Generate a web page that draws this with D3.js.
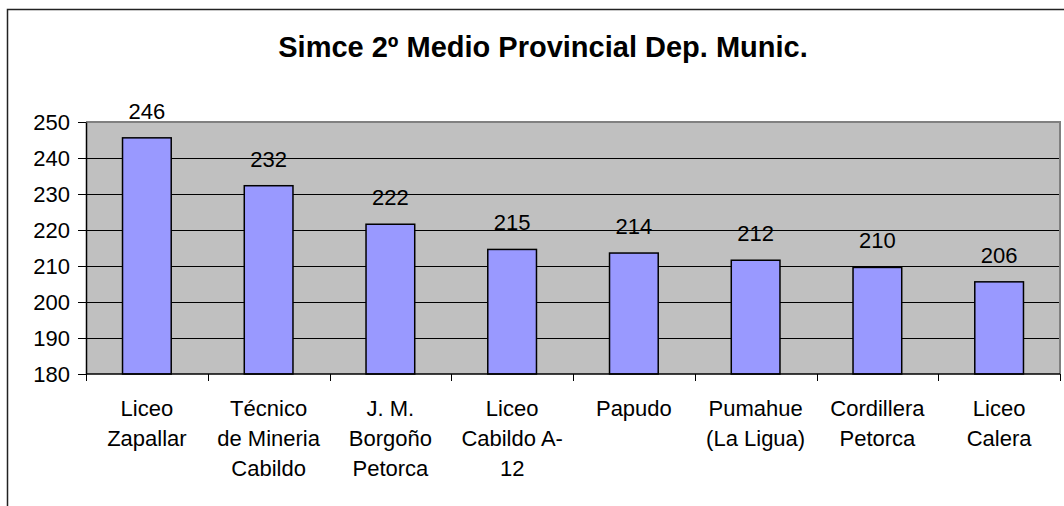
<!DOCTYPE html>
<html><head><meta charset="utf-8">
<script src="https://cdn.jsdelivr.net/npm/d3@7"></script>
<style>
html,body{margin:0;padding:0;background:#fff;}
svg{display:block;font-family:"Liberation Sans",Arial,sans-serif;}
</style></head>
<body>
<svg id="chart" width="1064" height="506"></svg>
<script>
const title = "Simce 2º Medio Provincial Dep. Munic.";
const categories = ["Liceo\nZapallar","Técnico\nde Mineria\nCabildo","J. M.\nBorgoño\nPetorca","Liceo\nCabildo A-\n12","Papudo","Pumahue\n(La Ligua)","Cordillera\nPetorca","Liceo\nCalera"];
const values = [245.6, 232.3, 221.6, 214.6, 213.6, 211.6, 209.6, 205.6];
const yTicks = [180, 190, 200, 210, 220, 230, 240, 250];

const svg = d3.select("#chart");
const L = 86, R = 1060, T = 122, B = 374;

// outer chart border
svg.append("rect").attr("x",7.5).attr("y",9.5).attr("width",1200).attr("height",800)
  .attr("fill","none").attr("stroke","#222").attr("stroke-width",1.5);

svg.append("text").attr("x",543).attr("y",57).attr("text-anchor","middle")
  .attr("font-size",29).attr("font-weight","bold").attr("fill","#000").text(title);

const x = d3.scaleBand().domain(categories).range([L,R]).paddingInner(0.6).paddingOuter(0.3);
const xb = d3.scaleBand().domain(categories).range([L,R]);
const y = d3.scaleLinear().domain([180,250]).range([B,T]);

svg.append("rect").attr("x",L).attr("y",T).attr("width",R-L).attr("height",B-T).attr("fill","#C0C0C0");

// gridlines
svg.append("g").selectAll("line").data(yTicks.filter(d=>d>180 && d<250)).join("line")
  .attr("x1",L).attr("x2",R).attr("y1",d=>Math.round(y(d))+0.5).attr("y2",d=>Math.round(y(d))+0.5)
  .attr("stroke","#000").attr("stroke-width",1);

// plot border (top/right gray)
svg.append("path").attr("d",`M${L},${T}H${R}V${B}`).attr("fill","none").attr("stroke","#808080").attr("stroke-width",2);

// bars
svg.append("g").selectAll("rect").data(values).join("rect")
  .attr("x",(d,i)=>x(categories[i])).attr("width",x.bandwidth())
  .attr("y",d=>y(d)).attr("height",d=>B-y(d))
  .attr("fill","#9999FF").attr("stroke","#000").attr("stroke-width",1.5);

// value labels
svg.append("g").selectAll("text").data(values).join("text")
  .attr("x",(d,i)=>x(categories[i])+x.bandwidth()/2).attr("y",d=>y(d)-19)
  .attr("text-anchor","middle").attr("font-size",22).attr("fill","#000")
  .text(d=>d3.format(".0f")(d));

// y axis
const yAxis = d3.axisLeft(y).tickValues(yTicks).tickSize(8).tickPadding(8).tickSizeOuter(0);
const gy = svg.append("g").attr("transform",`translate(${L},0)`).call(yAxis);
gy.select(".domain").attr("stroke","#000").attr("stroke-width",1.5);
gy.selectAll(".tick line").attr("stroke","#000");
gy.selectAll(".tick text").attr("font-size",22).attr("fill","#000").attr("font-family","Liberation Sans, Arial, sans-serif");

// x axis
const gx = svg.append("g").attr("transform",`translate(0,${B})`);
gx.append("line").attr("x1",L).attr("x2",R).attr("y1",0).attr("y2",0).attr("stroke","#000").attr("stroke-width",1.5);
const bounds = categories.map(c=>xb(c)).concat([R]);
gx.selectAll("line.tk").data(bounds).join("line").attr("class","tk")
  .attr("x1",d=>Math.round(d)+0.5).attr("x2",d=>Math.round(d)+0.5).attr("y1",0).attr("y2",7).attr("stroke","#000");

const lab = gx.selectAll("text.cat").data(categories).join("text").attr("class","cat")
  .attr("text-anchor","middle").attr("font-size",22).attr("fill","#000")
  .attr("transform",d=>`translate(${xb(d)+xb.bandwidth()/2},0)`);
lab.each(function(d){
  const t = d3.select(this);
  d.split("\n").forEach((ln,i)=>{
    t.append("tspan").attr("x",0).attr("y",42+i*30).text(ln);
  });
});
</script>
</body></html>
